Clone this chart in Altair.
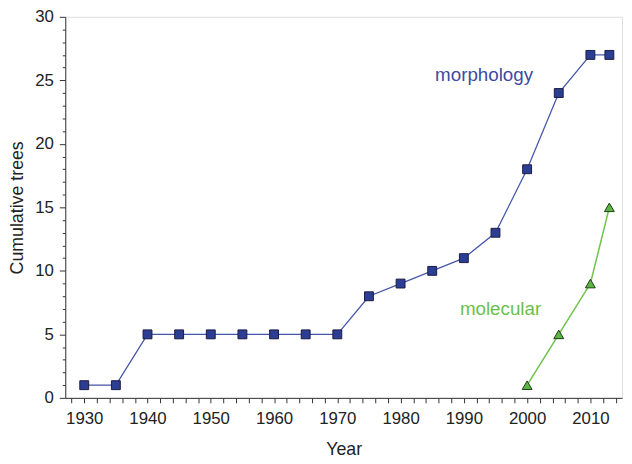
import altair as alt
import pandas as pd

# Data
morph_years = [1930, 1935, 1940, 1945, 1950, 1955, 1960, 1965, 1970, 1975, 1980, 1985, 1990, 1995, 2000, 2005, 2010, 2013]
morph_vals = [1, 1, 5, 5, 5, 5, 5, 5, 5, 8, 9, 10, 11, 13, 18, 24, 27, 27]
mol_years = [2000, 2005, 2010, 2013]
mol_vals = [1, 5, 9, 15]

label_text = ["morphology", "molecular"]
label_year = [1993.2, 1995.8]
label_val = [25.4, 7.0]
label_color = ["#3c4ba0", "#6abf4b"]

x_ticks = list(range(1928, 2016, 2))
y_ticks = list(range(0, 31, 1))

FONT = "Liberation Sans"

morph = pd.DataFrame({"year": morph_years, "val": morph_vals})
mol = pd.DataFrame({"year": mol_years, "val": mol_vals})
labels = pd.DataFrame({"text": label_text, "year": label_year, "val": label_val, "color": label_color})

xscale = alt.Scale(domain=[1927, 2015], nice=False, zero=False)
yscale = alt.Scale(domain=[0, 30], nice=False)

xaxis = alt.Axis(
    title="Year", values=x_ticks, format="d",
    labelExpr="datum.value % 10 === 0 ? datum.label : ''",
    tickSize=5, labelPadding=8, titlePadding=14, grid=False,
    labelFontSize=17, titleFontSize=18, titleFontWeight="normal",
    labelFont=FONT, titleFont=FONT, labelColor="#222", titleColor="#222",
    domainColor="#333", tickColor="#333", labelFlush=False, labelOverlap=False,
)
yaxis = alt.Axis(
    title="Cumulative trees", values=y_ticks,
    labelExpr="datum.value % 5 === 0 ? datum.label : ''",
    tickSize={"condition": {"test": "datum.value % 5 === 0", "value": 6}, "value": 3},
    labelPadding=6, titlePadding=8, grid=False,
    labelFontSize=17, titleFontSize=18, titleFontWeight="normal",
    labelFont=FONT, titleFont=FONT, labelColor="#222", titleColor="#222",
    domainColor="#333", tickColor="#333", labelFlush=False, labelOverlap=False,
)

x = alt.X("year:Q", scale=xscale, axis=xaxis)
y = alt.Y("val:Q", scale=yscale, axis=yaxis)

morph_line = alt.Chart(morph).mark_line(color="#4656a8", strokeWidth=1.3).encode(x=x, y=y)
morph_pts = alt.Chart(morph).mark_point(
    shape="square", size=81, filled=True, fill="#2c3d94", stroke="#1b1b40", strokeWidth=1, opacity=1
).encode(x=x, y=y)
mol_line = alt.Chart(mol).mark_line(color="#6cc24a", strokeWidth=1.5).encode(x=x, y=y)
mol_pts = alt.Chart(mol).mark_point(
    shape="triangle-up", size=100, filled=True, fill="#5cb443", stroke="#1e3d14", strokeWidth=1, opacity=1
).encode(x=x, y=y)
text = alt.Chart(labels).mark_text(
    font=FONT, fontSize=19, align="center", baseline="middle"
).encode(x=x, y=y, text="text:N", color=alt.Color("color:N", scale=None))

chart = alt.layer(morph_line, morph_pts, mol_line, mol_pts, text).properties(
    width=564, height=386,
    autosize=alt.AutoSizeParams(type="none"),
    padding={"left": 58, "top": 6, "right": 2, "bottom": 60},
).configure_view(stroke="#555", strokeWidth=1).configure(background="white")

chart.save("out.html", embed_options={"renderer": "svg", "actions": False})
